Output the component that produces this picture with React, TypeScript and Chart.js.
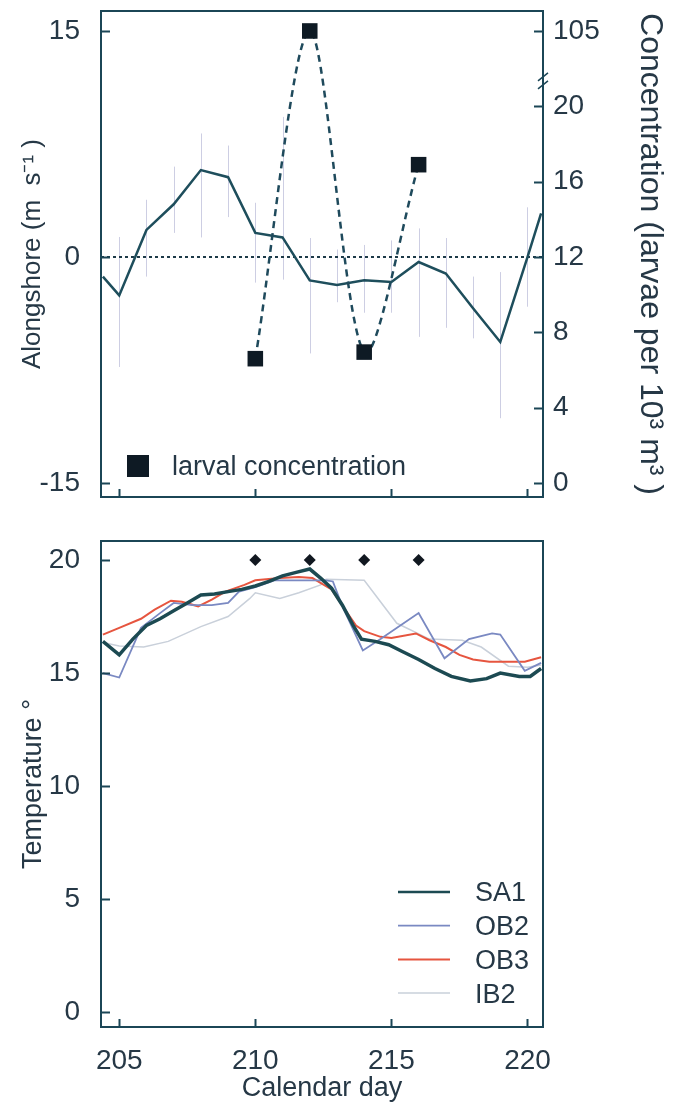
import React, { useEffect, useRef } from 'react';
import { Chart, registerables } from 'chart.js';

Chart.register(...registerables);

const FONT = "'Liberation Sans', Arial, Helvetica, sans-serif";
const TEXT = '#263846';
const AXIS = '#1b4656';

// ---------- Top panel data ----------
const windDays = [204.4, 205, 206, 207, 208, 209, 210, 211, 212, 213, 214, 215, 216, 217, 218, 219, 220, 220.5];
const windSpeed = [-1.3, -2.55, 1.8, 3.5, 5.77, 5.3, 1.6, 1.3, -1.55, -1.86, -1.55, -1.66, -0.33, -1.1, -3.4, -5.64, 0, 2.9];

const errDays = [205, 206, 207, 208, 209, 210, 211, 212, 213, 214, 215, 216, 217, 218, 219, 220];
const windHigh = [1.33, 3.8, 6.0, 8.2, 7.4, 3.6, 9.3, 1.26, 0.5, 0.8, 1.1, 1.9, 1.26, -1.3, -1.0, 3.3];
const windLow = [-7.3, -1.3, 1.6, 1.3, 2.65, -1.7, -1.5, -6.4, -3.0, -3.7, -3.7, -5.3, -4.7, -5.4, -10.7, -3.3];

const larvalDays = [210, 212, 214, 216];
const larvalConc = [6.6, 105, 6.95, 16.9];

const windTicks = [-15, 0, 15];
const concTicks = [0, 4, 8, 12, 16, 20, 105];
const dayTicks = [205, 210, 215, 220];

// ---------- Bottom panel data ----------
const sa1Days = [204.4, 205, 205.5, 206, 206.5, 207, 207.5, 208, 208.5, 209, 209.5, 210, 210.5, 211, 211.5, 212, 212.4, 212.8, 213.2, 213.6, 213.9, 214.4, 214.9, 215.4, 216, 216.6, 217.2, 217.9, 218.5, 219, 219.7, 220.1, 220.5];
const sa1Temp = [16.4, 15.8, 16.5, 17.1, 17.4, 17.75, 18.1, 18.45, 18.5, 18.6, 18.7, 18.85, 19.05, 19.3, 19.45, 19.6, 19.2, 18.75, 18.0, 17.1, 16.5, 16.4, 16.25, 15.95, 15.6, 15.2, 14.85, 14.65, 14.75, 15.0, 14.85, 14.85, 15.2];

const ob2Days = [204.4, 205, 205.8, 206.5, 207, 207.7, 208.4, 209, 209.4, 210, 210.7, 211.4, 212.1, 212.6, 212.85, 213.2, 213.95, 214.6, 216, 216.95, 217.85, 218.7, 219, 219.9, 220.5];
const ob2Temp = [15.0, 14.8, 17.0, 17.65, 18.1, 18.0, 18.0, 18.1, 18.6, 18.8, 19.1, 19.1, 19.1, 19.1, 19.05, 17.95, 16.0, 16.5, 17.65, 15.65, 16.5, 16.75, 16.7, 15.1, 15.45];

const ob3Days = [204.4, 205, 205.8, 206.3, 206.9, 207.3, 207.9, 208.4, 208.9, 209.6, 210, 210.9, 211.6, 212.1, 212.8, 213.3, 213.7, 214, 214.6, 215, 215.9, 216.4, 217, 217.5, 218, 218.6, 219.3, 219.9, 220.5];
const ob3Temp = [16.7, 17.0, 17.4, 17.8, 18.2, 18.15, 17.95, 18.25, 18.6, 18.9, 19.1, 19.2, 19.25, 19.2, 18.7, 17.8, 17.1, 16.85, 16.6, 16.55, 16.75, 16.45, 16.15, 15.8, 15.6, 15.5, 15.5, 15.5, 15.7];

const ib2Days = [204.4, 205, 205.9, 206.8, 208, 209, 209.8, 210, 210.9, 211.6, 212.4, 212.6, 214, 215.2, 216.4, 217.6, 218.3, 219.3, 220, 220.5];
const ib2Temp = [16.35, 16.2, 16.15, 16.4, 17.05, 17.5, 18.3, 18.55, 18.3, 18.55, 18.9, 19.15, 19.1, 17.2, 16.5, 16.45, 16.15, 15.3, 15.25, 15.35];

const sampleDays = [210, 212, 214, 216];
const sampleMark = [20, 20, 20, 20];

const tempTicks = [0, 5, 10, 15, 20];
const stationNames = ['SA1', 'OB2', 'OB3', 'IB2'];

// broken concentration axis: values above the break are drawn compressed
const concToAxis = (v: number) => (v >= 105 ? 24 + (v - 105) * 0.05 : v);

const pts = (xs: number[], ys: number[]) => xs.map((x, i) => ({ x, y: ys[i] }));

const fixSize = (w?: number, h?: number) => (s: any) => {
  if (w !== undefined) s.width = w;
  if (h !== undefined) s.height = h;
  s.paddingTop = 0; s.paddingBottom = 0; s.paddingLeft = 0; s.paddingRight = 0;
};
const setTicks = (vals: number[]) => (s: any) => { s.ticks = vals.map((v) => ({ value: v })); };

const noGrid = { display: false, drawTicks: false, tickLength: 0 };

const framePlugin = (yAxes: [string, 'left' | 'right'][]) => ({
  id: 'frame',
  afterDraw(chart: any) {
    const { ctx, chartArea: a, scales } = chart;
    ctx.save();
    ctx.strokeStyle = AXIS;
    ctx.lineWidth = 2;
    ctx.strokeRect(a.left, a.top, a.right - a.left, a.bottom - a.top);
    ctx.beginPath();
    for (const t of scales.x.ticks) {
      const px = Math.round(scales.x.getPixelForValue(t.value)) + 0.5;
      ctx.moveTo(px, a.bottom);
      ctx.lineTo(px, a.bottom - 8);
    }
    for (const [id, side] of yAxes) {
      const s = scales[id];
      for (const t of s.ticks) {
        const py = Math.round(s.getPixelForValue(t.value)) + 0.5;
        if (side === 'left') { ctx.moveTo(a.left, py); ctx.lineTo(a.left + 9, py); }
        else { ctx.moveTo(a.right, py); ctx.lineTo(a.right - 9, py); }
      }
    }
    ctx.stroke();
    ctx.restore();
  },
});

const topExtras = {
  id: 'topExtras',
  beforeDatasetsDraw(chart: any) {
    const { ctx, chartArea: a, scales } = chart;
    const x = scales.x, y = scales.y;
    ctx.save();
    // error bars
    ctx.strokeStyle = 'rgba(196,198,222,0.85)';
    ctx.lineWidth = 1;
    ctx.beginPath();
    errDays.forEach((d, i) => {
      const px = Math.round(x.getPixelForValue(d)) + 0.5;
      ctx.moveTo(px, y.getPixelForValue(windHigh[i]));
      ctx.lineTo(px, y.getPixelForValue(windLow[i]));
    });
    ctx.stroke();
    // zero line
    ctx.strokeStyle = '#1d3a48';
    ctx.lineWidth = 2;
    ctx.setLineDash([3, 3]);
    const py = Math.round(y.getPixelForValue(0));
    ctx.beginPath();
    ctx.moveTo(a.left, py);
    ctx.lineTo(a.right, py);
    ctx.stroke();
    ctx.restore();
  },
  afterDraw(chart: any) {
    const { ctx, chartArea: a, scales } = chart;
    ctx.save();
    // axis break on right axis
    const yb = scales.y2.getPixelForValue(21.3);
    ctx.fillStyle = '#ffffff';
    ctx.fillRect(a.right - 3, yb - 4, 6, 8);
    ctx.strokeStyle = AXIS;
    ctx.lineWidth = 1.5;
    ctx.beginPath();
    ctx.moveTo(a.right - 5, yb - 1); ctx.lineTo(a.right + 5, yb - 9);
    ctx.moveTo(a.right - 5, yb + 7); ctx.lineTo(a.right + 5, yb - 1);
    ctx.stroke();
    // legend
    ctx.fillStyle = '#0e1a24';
    ctx.fillRect(127, 455, 22, 22);
    ctx.fillStyle = TEXT;
    ctx.font = `27px ${FONT}`;
    ctx.textBaseline = 'middle';
    ctx.textAlign = 'left';
    ctx.fillText('larval concentration', 172, 468);
    ctx.restore();
  },
};

const bottomLegend = {
  id: 'bottomLegend',
  afterDraw(chart: any) {
    const { ctx } = chart;
    ctx.save();
    ctx.font = `27px ${FONT}`;
    ctx.textBaseline = 'middle';
    ctx.textAlign = 'left';
    stationNames.forEach((name, i) => {
      const ds = chart.data.datasets[i];
      const y = 372 + i * 33.7;
      ctx.strokeStyle = ds.borderColor;
      ctx.lineWidth = Math.min(ds.borderWidth, 2.5);
      ctx.beginPath();
      ctx.moveTo(398, y);
      ctx.lineTo(450, y);
      ctx.stroke();
      ctx.fillStyle = TEXT;
      ctx.fillText(name, 475, y + 2);
    });
    ctx.restore();
  },
};

const tickFont = { family: FONT, size: 28 };

function topConfig(): any {
  return {
    type: 'line',
    data: {
      datasets: [
        {
          label: 'larval concentration',
          data: pts(larvalDays, larvalConc.map(concToAxis)),
          yAxisID: 'y2',
          borderColor: '#1f4a5c',
          borderWidth: 2.5,
          borderDash: [7, 5],
          tension: 0.3,
          pointStyle: 'rect',
          pointRadius: 11,
          pointBackgroundColor: '#0e1a24',
          pointBorderColor: '#0e1a24',
          pointBorderWidth: 0,
        },
        {
          label: 'Alongshore wind',
          data: pts(windDays, windSpeed),
          yAxisID: 'y',
          borderColor: '#1e4e5c',
          borderWidth: 2.5,
          pointRadius: 0,
          tension: 0,
        },
      ],
    },
    options: {
      animation: false,
      responsive: false,
      devicePixelRatio: 1,
      layout: { padding: { top: 11, left: 0, right: 0, bottom: 0 } },
      plugins: { legend: { display: false }, tooltip: { enabled: false } },
      scales: {
        x: {
          type: 'linear', min: 204.33, max: 220.57,
          grid: noGrid, border: { display: false },
          ticks: { display: false },
          afterBuildTicks: setTicks(dayTicks),
          afterFit: fixSize(undefined, 23),
        },
        y: {
          position: 'left', min: -15.93, max: 16.33,
          grid: noGrid, border: { display: false },
          ticks: { font: tickFont, color: TEXT, padding: 21 },
          afterBuildTicks: setTicks(windTicks),
          title: {
            display: true, text: 'Alongshore (m  s\u207B\u00B9 )', color: TEXT,
            font: { family: FONT, size: 26 }, padding: { top: 17, bottom: 0 },
          },
          afterFit: fixSize(101),
        },
        y2: {
          position: 'right', min: -0.744, max: 25.06,
          grid: noGrid, border: { display: false },
          ticks: {
            font: tickFont, color: TEXT, padding: 10,
            callback: (v: number) => {
              const c = concTicks.find((t) => Math.abs(concToAxis(t) - v) < 1e-6);
              return c === undefined ? '' : String(c);
            },
          },
          afterBuildTicks: setTicks(concTicks.map(concToAxis)),
          title: {
            display: true, text: 'Concentration (larvae per 10\u00B3 m\u00B3 )', color: TEXT,
            font: { family: FONT, size: 32 }, padding: { top: 7, bottom: 0 },
          },
          afterFit: fixSize(133),
        },
      },
    },
    plugins: [topExtras, framePlugin([['y', 'left'], ['y2', 'right']])],
  };
}

function bottomConfig(): any {
  return {
    type: 'line',
    data: {
      datasets: [
        { label: 'SA1', data: pts(sa1Days, sa1Temp), borderColor: '#1c4a52', borderWidth: 3.5, pointRadius: 0, tension: 0 },
        { label: 'OB2', data: pts(ob2Days, ob2Temp), borderColor: '#7a89c2', borderWidth: 1.8, pointRadius: 0, tension: 0 },
        { label: 'OB3', data: pts(ob3Days, ob3Temp), borderColor: '#e6553f', borderWidth: 2, pointRadius: 0, tension: 0 },
        { label: 'IB2', data: pts(ib2Days, ib2Temp), borderColor: '#c9d0da', borderWidth: 1.5, pointRadius: 0, tension: 0 },
        {
          label: 'sampling', data: pts(sampleDays, sampleMark), showLine: false,
          pointStyle: 'rectRot', pointRadius: 6, pointBackgroundColor: '#111820', pointBorderColor: '#111820', pointBorderWidth: 0,
        },
      ],
    },
    options: {
      animation: false,
      responsive: false,
      devicePixelRatio: 1,
      layout: { padding: { top: 21, left: 0, right: 133, bottom: 0 } },
      plugins: { legend: { display: false }, tooltip: { enabled: false } },
      scales: {
        x: {
          type: 'linear', min: 204.33, max: 220.57,
          grid: noGrid, border: { display: false },
          ticks: { font: tickFont, color: TEXT, padding: 17, maxRotation: 0 },
          afterBuildTicks: setTicks(dayTicks),
          title: {
            display: true, text: 'Calendar day', color: TEXT,
            font: { family: FONT, size: 27 }, padding: { top: 0, bottom: 3 },
          },
          afterFit: fixSize(undefined, 81),
        },
        y: {
          position: 'left', min: -0.66, max: 20.84,
          grid: noGrid, border: { display: false },
          ticks: { font: tickFont, color: TEXT, padding: 21 },
          afterBuildTicks: setTicks(tempTicks),
          title: {
            display: true, text: 'Temperature \u00B0', color: TEXT,
            font: { family: FONT, size: 27 }, padding: { top: 17, bottom: 0 },
          },
          afterFit: fixSize(101),
        },
      },
    },
    plugins: [framePlugin([['y', 'left']]), bottomLegend],
  };
}

export default function App() {
  const topRef = useRef<HTMLCanvasElement>(null);
  const botRef = useRef<HTMLCanvasElement>(null);

  useEffect(() => {
    document.body.style.margin = '0';
    Chart.defaults.font.family = FONT;
    const c1 = new Chart(topRef.current as HTMLCanvasElement, topConfig());
    const c2 = new Chart(botRef.current as HTMLCanvasElement, bottomConfig());
    return () => {
      c1.destroy();
      c2.destroy();
    };
  }, []);

  return (
    <div style={{ position: 'absolute', left: 0, top: 0, width: 676, height: 1108, background: '#ffffff' }}>
      <canvas ref={topRef} width={676} height={520} style={{ position: 'absolute', left: 0, top: 0, width: 676, height: 520 }} />
      <canvas ref={botRef} width={676} height={588} style={{ position: 'absolute', left: 0, top: 520, width: 676, height: 588 }} />
    </div>
  );
}
